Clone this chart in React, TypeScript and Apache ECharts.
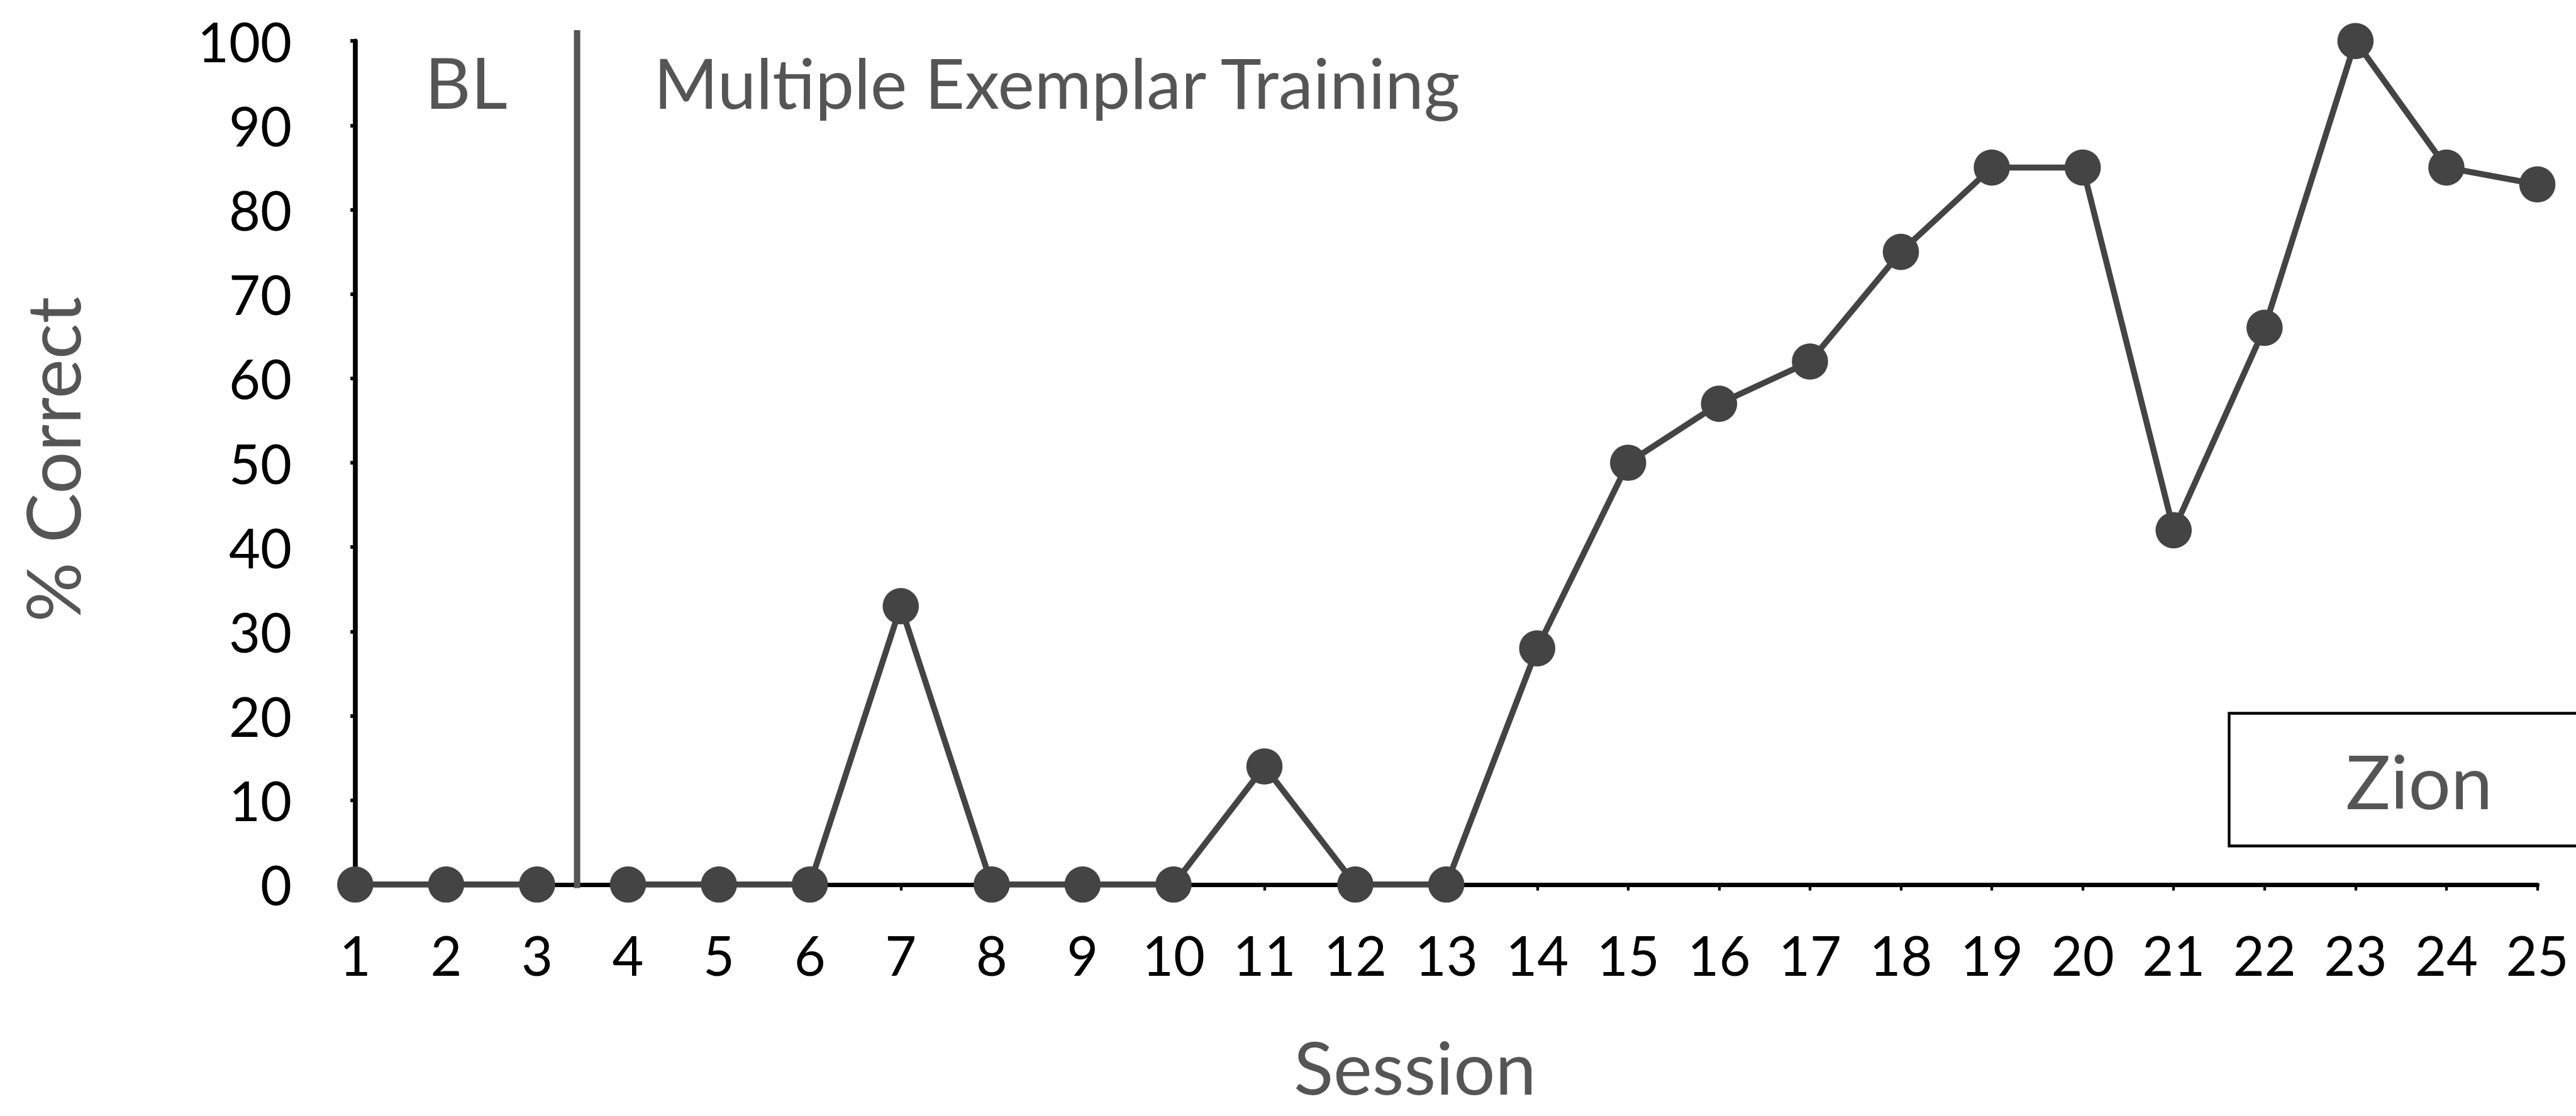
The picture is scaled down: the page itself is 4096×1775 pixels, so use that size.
import React, { useEffect, useRef } from "react";
import * as echarts from "echarts";

const S = 0.959;
const FONT = 'Lato, "Open Sans", sans-serif';

const sessions = [1, 2, 3, 4, 5, 6, 7, 8, 9, 10, 11, 12, 13, 14, 15, 16, 17, 18, 19, 20, 21, 22, 23, 24, 25];
const percentCorrect = [0, 0, 0, 0, 0, 0, 33, 0, 0, 0, 14, 0, 0, 28, 50, 57, 62, 75, 85, 85, 42, 66, 100, 85, 83];
const baselineCount = 3; // sessions in BL phase
const phaseChangeAt = 3.44; // session position of the phase-change line
const phaseLabels = ["BL", "Multiple Exemplar Training"];
const xTitle = "Session";
const yTitle = "% Correct";
const participant = "Zion";

export default function App() {
  const ref = useRef<HTMLDivElement>(null);
  useEffect(() => {
    document.body.style.margin = "0";
    const chart = echarts.init(ref.current!, null, { renderer: "svg" });
    const pairs = sessions.map((s, i) => [s, percentCorrect[i]]);
    const blData = pairs.slice(0, baselineCount);
    const metData = pairs.slice(baselineCount);
    const lineSeries = (data: number[][]) => ({
      type: "line",
      data,
      symbol: "circle",
      symbolSize: 60 * S,
      itemStyle: { color: "#444444" },
      lineStyle: { color: "#444444", width: 10 * S },
      z: 5,
    });
    chart.setOption({
      animation: false,
      backgroundColor: "#ffffff",
      grid: { left: 589 * S, right: 4096 - 4207 * S, top: 68 * S, bottom: 1775 - 1467 * S },
      xAxis: {
        type: "value",
        min: 1,
        max: 25,
        interval: 1,
        splitLine: { show: false },
        axisLine: { show: true, lineStyle: { color: "#000", width: 7.5 * S } },
        axisTick: { show: true, length: 10 * S, lineStyle: { color: "#000", width: 4.5 * S } },
        axisLabel: { fontSize: 90 * S, color: "#000", fontFamily: FONT, margin: 72 * S },
      },
      yAxis: {
        type: "value",
        min: 0,
        max: 100,
        interval: 10,
        splitLine: { show: false },
        axisLine: { show: true, lineStyle: { color: "#000", width: 8 * S } },
        axisTick: { show: true, length: 8 * S, lineStyle: { color: "#000", width: 6 * S } },
        axisLabel: { fontSize: 90 * S, color: "#000", fontFamily: FONT, margin: 105 * S, padding: [0, 0, 24 * S, 0] },
      },
      series: [lineSeries(blData), lineSeries(metData)],
    });

    const top = chart.convertToPixel({ gridIndex: 0 }, [phaseChangeAt, 100]) as number[];
    const bot = chart.convertToPixel({ gridIndex: 0 }, [phaseChangeAt, 0]) as number[];
    const origin = chart.convertToPixel({ gridIndex: 0 }, [1, 0]) as number[];
    const titleFont = `${115 * S}px ${FONT}`;
    chart.setOption({
      graphic: [
        {
          type: "line",
          shape: { x1: top[0], y1: top[1] - 18 * S, x2: bot[0], y2: bot[1] + 6 * S },
          style: { stroke: "#555555", lineWidth: 10.5 * S },
          z: 3,
        },
        {
          type: "text",
          x: (origin[0] + top[0]) / 2,
          y: 135 * S,
          style: { text: phaseLabels[0], font: `${118 * S}px ${FONT}`, fill: "#555555", textAlign: "center", textVerticalAlign: "middle" },
        },
        {
          type: "text",
          x: top[0] + 127 * S,
          y: 136 * S,
          style: { text: phaseLabels[1], font: titleFont, fill: "#555555", textAlign: "left", textVerticalAlign: "middle" },
        },
        {
          type: "text",
          x: 2346 * S,
          y: 1696,
          style: { text: xTitle, font: `${122 * S}px ${FONT}`, fill: "#555555", textAlign: "center", textVerticalAlign: "middle" },
        },
        {
          type: "text",
          x: 86 * S,
          y: 762 * S,
          rotation: Math.PI / 2,
          style: { text: yTitle, font: `${124 * S}px ${FONT}`, fill: "#555555", textAlign: "center", textVerticalAlign: "middle" },
        },
        {
          type: "rect",
          shape: { x: 3696 * S, y: 1183 * S, width: 700 * S, height: 220 * S },
          style: { fill: "#ffffff", stroke: "#000000", lineWidth: 4.5 * S },
          z: 10,
        },
        {
          type: "text",
          x: 4011 * S,
          y: 1294 * S,
          z: 11,
          style: { text: participant, font: `${124 * S}px ${FONT}`, fill: "#555555", textAlign: "center", textVerticalAlign: "middle" },
        },
      ],
    });
    return () => chart.dispose();
  }, []);
  return <div ref={ref} style={{ width: 4096, height: 1775 }} />;
}
